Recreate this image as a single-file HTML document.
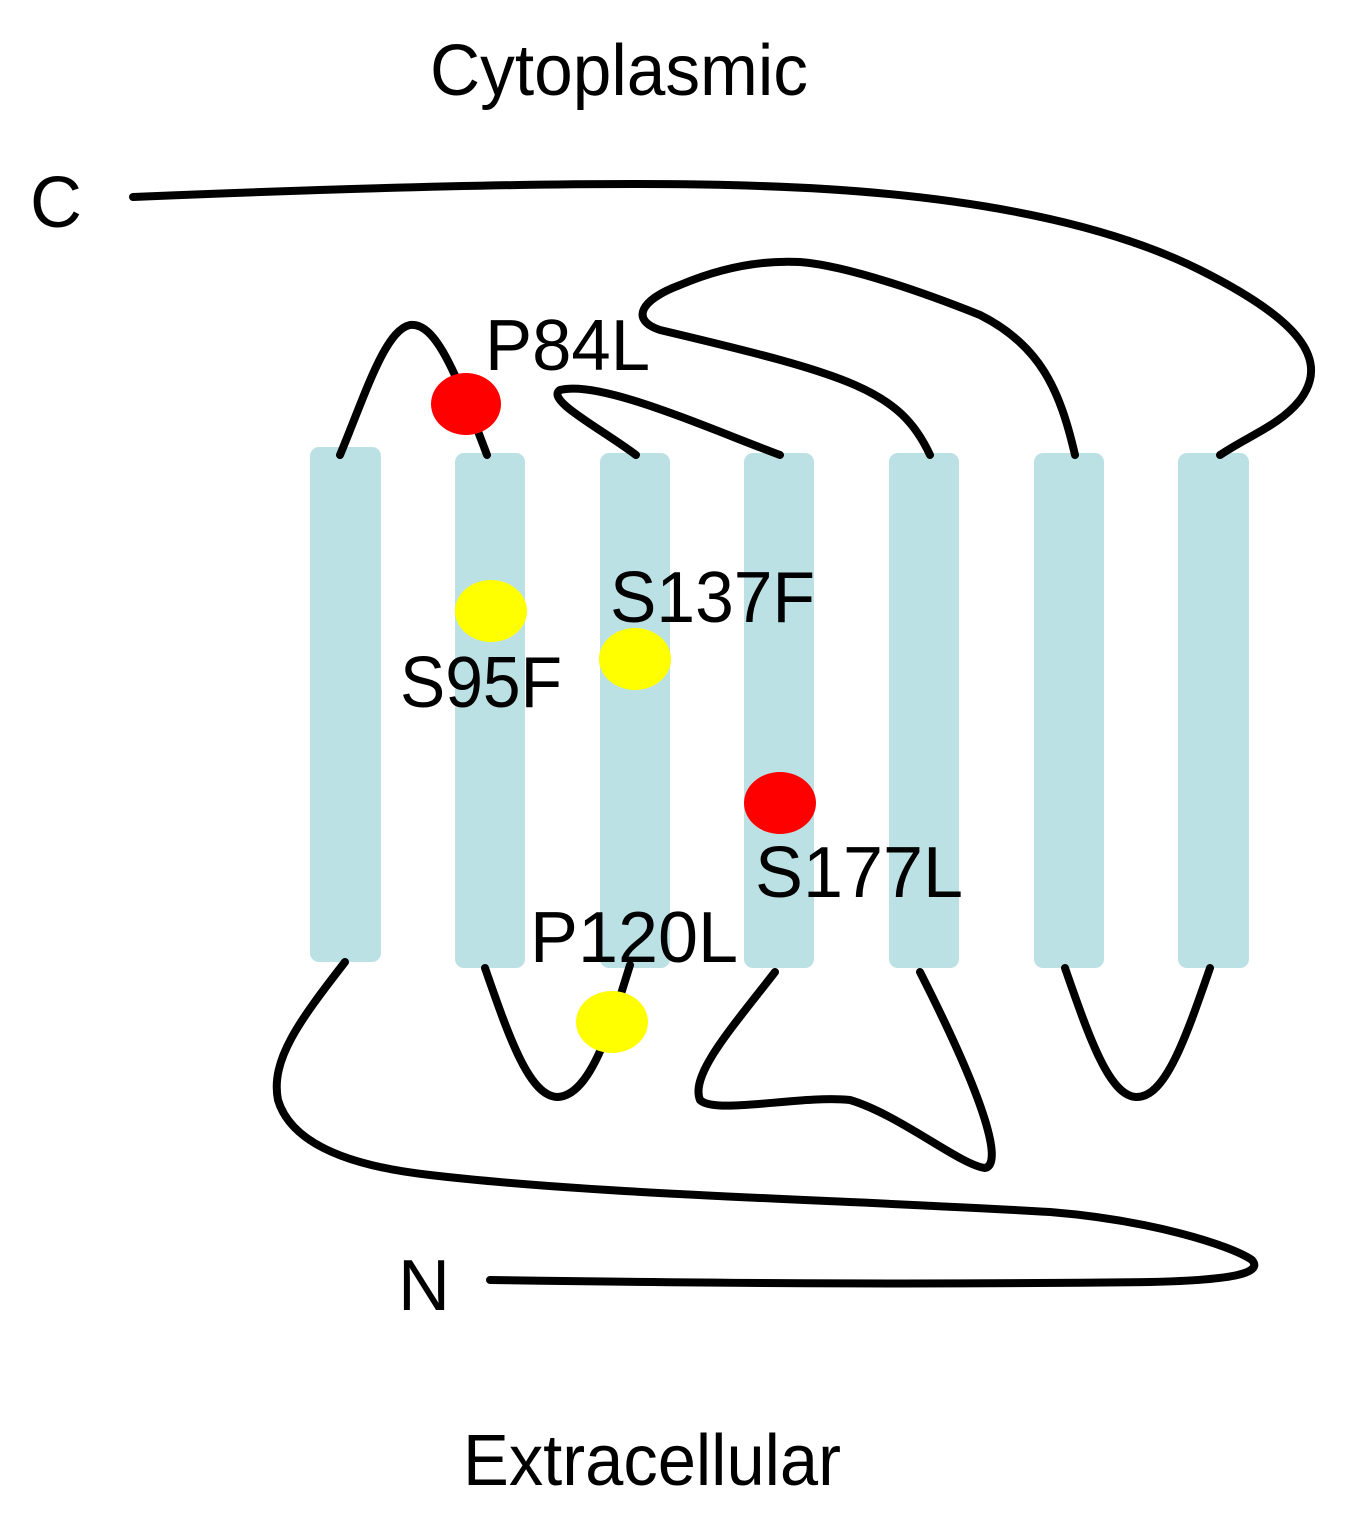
<!DOCTYPE html>
<html><head><style>html,body{margin:0;padding:0;background:#fff}</style></head><body>
<svg width="1356" height="1520" viewBox="0 0 1356 1520" xmlns="http://www.w3.org/2000/svg">
<g fill="#bbe1e4">
<rect x="310" y="447" width="71" height="515" rx="9"/>
<rect x="455" y="453" width="70" height="515" rx="9"/>
<rect x="600" y="453" width="70" height="515" rx="9"/>
<rect x="744" y="453" width="70" height="515" rx="9"/>
<rect x="889" y="453" width="70" height="515" rx="9"/>
<rect x="1034" y="453" width="70" height="515" rx="9"/>
<rect x="1178" y="453" width="71" height="515" rx="9"/>
</g>
<g fill="none" stroke="#000" stroke-width="8" stroke-linecap="round" stroke-linejoin="round">
<path d="M133,197 C350,188 600,180 760,186 C950,192 1100,220 1200,270 C1300,320 1330,360 1300,400 C1280,425 1250,435 1220,455"/>
<path d="M340,455 C365,395 385,330 410,325 C435,322 455,370 487,455"/>
<path d="M636,455 C600,428 545,400 560,390 C600,380 700,425 780,455"/>
<path d="M930,455 C900,390 850,375 660,330 C630,320 640,300 680,285 C720,268 760,260 800,262 C850,266 930,295 980,315 C1040,345 1060,390 1075,455"/>
<path d="M345,962 C300,1020 270,1060 278,1100 C290,1140 340,1165 430,1175 C600,1195 850,1200 1050,1212 C1150,1220 1230,1245 1252,1260 C1262,1272 1240,1280 1150,1282 C900,1285 700,1283 490,1280"/>
<path d="M485,968 C510,1040 530,1097 558,1097 C590,1095 610,1030 630,965"/>
<path d="M775,972 C730,1030 690,1075 700,1100 C715,1115 800,1095 850,1100 C900,1115 960,1165 985,1168 C1000,1165 995,1120 920,972"/>
<path d="M1065,968 C1090,1040 1110,1097 1137,1097 C1165,1097 1185,1040 1210,968"/>
</g>
<g>
<ellipse cx="466" cy="404" rx="35" ry="31" fill="#ff0000"/>
<ellipse cx="491" cy="611" rx="36" ry="31" fill="#ffff00"/>
<ellipse cx="635" cy="659" rx="36" ry="31" fill="#ffff00"/>
<ellipse cx="780" cy="803" rx="36" ry="31" fill="#ff0000"/>
<ellipse cx="612" cy="1022" rx="36" ry="31" fill="#ffff00"/>
</g>
<g font-family="Liberation Sans, sans-serif" font-size="72" fill="#000">
<text x="430" y="95" textLength="378" lengthAdjust="spacingAndGlyphs">Cytoplasmic</text>
<text x="30" y="227">C</text>
<text x="485" y="370" textLength="165" lengthAdjust="spacingAndGlyphs">P84L</text>
<text x="610" y="622" textLength="205" lengthAdjust="spacingAndGlyphs">S137F</text>
<text x="400" y="707" textLength="162" lengthAdjust="spacingAndGlyphs">S95F</text>
<text x="755" y="897" textLength="208" lengthAdjust="spacingAndGlyphs">S177L</text>
<text x="530" y="962" textLength="208" lengthAdjust="spacingAndGlyphs">P120L</text>
<text x="398" y="1310">N</text>
<text x="463" y="1485" textLength="378" lengthAdjust="spacingAndGlyphs">Extracellular</text>
</g>
</svg>
</body></html>
